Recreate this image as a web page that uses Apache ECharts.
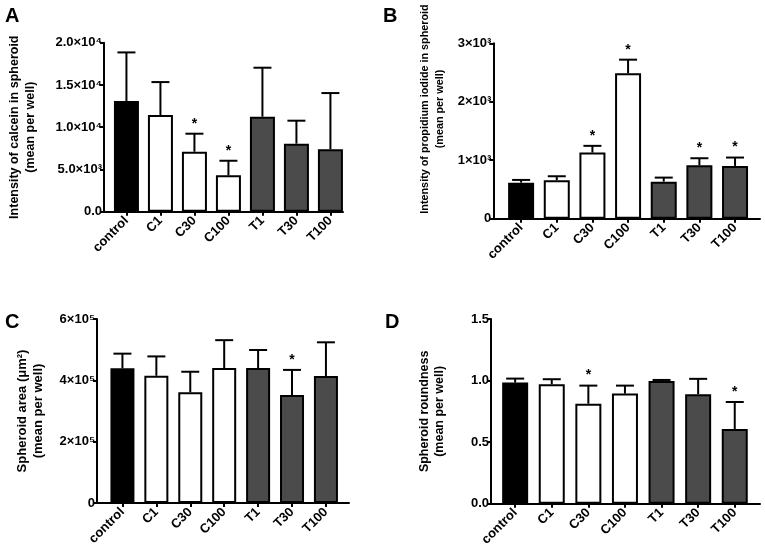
<!DOCTYPE html>
<html><head><meta charset="utf-8">
<script src="https://cdn.jsdelivr.net/npm/echarts@6/dist/echarts.min.js"></script>
<style>html,body{margin:0;padding:0;background:#fff}#c{width:765px;height:558px}</style>
</head><body><div id="c"></div>
<script>
// ---- data ----
const categories = ['control', 'C1', 'C30', 'C100', 'T1', 'T30', 'T100'];
const groups = ['control', 'C', 'C', 'C', 'T', 'T', 'T'];

const meanA = [13100, 11440, 7100, 4300, 11240, 8050, 7380];
const errTopA = [18850, 15340, 9230, 6030, 17040, 10770, 14040];
const sigA = [false, false, true, true, false, false, false];
const ticksA = [0, 5000, 10000, 15000, 20000];
const tickLabelsA = ['0.0', '5.0×10³', '1.0×10⁴', '1.5×10⁴', '2.0×10⁴'];

const meanB = [617, 657, 1131, 2486, 634, 914, 903];
const errTopB = [663, 726, 1246, 2720, 703, 1034, 1046];
const sigB = [false, false, true, true, false, true, true];
const ticksB = [0, 1000, 2000, 3000];
const tickLabelsB = ['0', '1×10³', '2×10³', '3×10³'];

const meanC = [439000, 415000, 361000, 440000, 440000, 352000, 414000];
const errTopC = [487000, 478000, 428000, 531000, 499000, 434000, 524000];
const sigC = [false, false, false, false, false, true, false];
const ticksC = [0, 200000, 400000, 600000];
const tickLabelsC = ['0', '2×10⁵', '4×10⁵', '6×10⁵'];

const meanD = [0.984, 0.970, 0.812, 0.894, 0.997, 0.889, 0.606];
const errTopD = [1.016, 1.011, 0.959, 0.959, 1.005, 1.014, 0.826];
const sigD = [false, false, true, false, false, false, true];
const ticksD = [0, 0.5, 1.0, 1.5];
const tickLabelsD = ['0.0', '0.5', '1.0', '1.5'];

const panelLetters = ['A', 'B', 'C', 'D'];
const yNames = [
  'Intensity of calcein in spheroid\n(mean per well)',
  'Intensity of propidium iodide in spheroid\n(mean per well)',
  'Spheroid area (μm²)\n(mean per well)',
  'Spheroid roundness\n(mean per well)'
];

// ---- styles ----
const groupColor = { control: '#000000', C: '#ffffff', T: '#4b4b4b' };
const FONT = "'Liberation Sans', 'DejaVu Sans', Arial, sans-serif";

const panels = [
  { mean: meanA, err: errTopA, sig: sigA, ticks: ticksA, labels: tickLabelsA,
    grid: { left: 104, top: 42.7, width: 239, height: 169 }, xmin: -0.66, xmax: 6.37, barW: 25,
    nameGap: 66, nameSize: 12.5, nameLH: 15.5, namePad: [0, 0, 0, 0], ymax: 20000, interval: 5000 },
  { mean: meanB, err: errTopB, sig: sigB, ticks: ticksB, labels: tickLabelsB,
    grid: { left: 493.3, top: 43.3, width: 266.7, height: 175.4 }, xmin: -0.78, xmax: 6.7, barW: 26,
    nameGap: 46, nameSize: 10.8, nameLH: 15, namePad: [0, 0, 0, 44], ymax: 3000, interval: 1000 },
  { mean: meanC, err: errTopC, sig: sigC, ticks: ticksC, labels: tickLabelsC,
    grid: { left: 97, top: 319, width: 252, height: 184 }, xmin: -0.75, xmax: 6.68, barW: 24,
    nameGap: 51, nameSize: 13, nameLH: 15.5, namePad: [0, 0, 0, 0], ymax: 600000, interval: 200000 },
  { mean: meanD, err: errTopD, sig: sigD, ticks: ticksD, labels: tickLabelsD,
    grid: { left: 491, top: 319, width: 269, height: 184.7 }, xmin: -0.66, xmax: 6.69, barW: 26,
    nameGap: 44, nameSize: 12.5, nameLH: 15, namePad: [0, 0, 0, 0], ymax: 1.5, interval: 0.5 }
];

const option = {
  animation: false,
  backgroundColor: '#fff',
  title: [
    { text: panelLetters[0], left: 5, top: 6 },
    { text: panelLetters[1], left: 383, top: 6 },
    { text: panelLetters[2], left: 5, top: 312 },
    { text: panelLetters[3], left: 385, top: 312 }
  ].map(t => Object.assign(t, { padding: 0, textStyle: { fontFamily: FONT, fontWeight: 'bold', fontSize: 20, color: '#000' } })),
  grid: [], xAxis: [], yAxis: [], series: []
};

panels.forEach((p, k) => {
  option.grid.push(Object.assign({ containLabel: false }, p.grid));
  option.xAxis.push({
    type: 'value', gridIndex: k, min: p.xmin, max: p.xmax,
    splitLine: { show: false },
    axisLine: { show: true, onZero: false, lineStyle: { color: '#000', width: 2 } },
    axisTick: { show: true, customValues: categories.map((c, i) => i), length: 4, lineStyle: { color: '#000', width: 2 } },
    axisLabel: {
      show: true, customValues: categories.map((c, i) => i), rotate: 45, margin: 7,
      formatter: v => categories[Math.round(v)] || '',
      fontFamily: FONT, fontWeight: 'bold', fontSize: 13, color: '#000'
    }
  });
  option.yAxis.push({
    type: 'value', gridIndex: k, min: 0, max: p.ymax, interval: p.interval,
    name: yNames[k], nameLocation: 'middle', nameGap: p.nameGap, nameRotate: 90,
    nameTextStyle: {
      fontFamily: FONT, fontWeight: 'bold', fontSize: p.nameSize, color: '#000', lineHeight: p.nameLH, align: 'center',
      padding: p.namePad
    },
    splitLine: { show: false },
    axisLine: { show: true, onZero: false, lineStyle: { color: '#000', width: 2 } },
    axisTick: { show: true, length: 4, lineStyle: { color: '#000', width: 2 } },
    axisLabel: {
      margin: 2, fontFamily: FONT, fontWeight: 'bold', fontSize: 13, color: '#000',
      formatter: v => { const i = p.ticks.findIndex(t => Math.abs(t - v) < 1e-9); return i >= 0 ? p.labels[i] : ''; }
    }
  });
  option.series.push({
    type: 'bar', xAxisIndex: k, yAxisIndex: k, barWidth: p.barW,
    data: p.mean.map((v, i) => ({ value: [i, v], itemStyle: { color: groupColor[groups[i]] } })),
    itemStyle: { borderColor: '#000', borderWidth: 2 },
    z: 2
  });
  option.series.push({
    type: 'custom', xAxisIndex: k, yAxisIndex: k, z: 3,
    data: p.mean.map((v, i) => [i, v, p.err[i], p.sig[i] ? 1 : 0]),
    renderItem: (params, api) => {
      const i = api.value(0);
      const b = api.coord([i, api.value(1)]);
      const t = api.coord([i, api.value(2)]);
      const capHalf = 9;
      const children = [
        { type: 'line', shape: { x1: b[0], y1: b[1], x2: t[0], y2: t[1] }, style: { stroke: '#000', lineWidth: 2 } },
        { type: 'line', shape: { x1: t[0] - capHalf, y1: t[1], x2: t[0] + capHalf, y2: t[1] }, style: { stroke: '#000', lineWidth: 2 } }
      ];
      if (api.value(3)) {
        children.push({ type: 'text', x: t[0], y: t[1] - 3,
          style: { text: '*', fontFamily: FONT, fontWeight: 'bold', fontSize: 14, fill: '#000', align: 'center', verticalAlign: 'bottom' } });
      }
      return { type: 'group', children };
    }
  });
});

const chart = echarts.init(document.getElementById('c'), null, { renderer: 'canvas' });
chart.setOption(option);
</script>
</body></html>
